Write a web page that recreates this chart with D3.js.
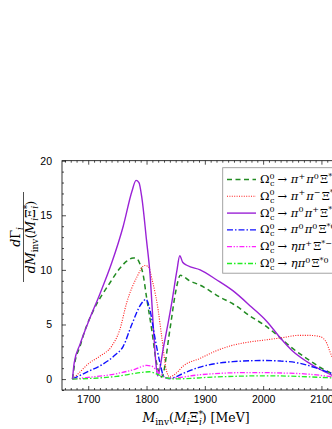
<!DOCTYPE html>
<html>
<head>
<meta charset="utf-8">
<script src="https://cdn.jsdelivr.net/npm/d3@7"></script>
<style>
  body { margin: 0; background: #fff; }
  svg { display: block; }
  .tick text { font-family: "Liberation Sans", Arial, sans-serif; font-size: 10.5px; fill: #000; }
  .domain { stroke: #000; stroke-width: 0.8; }
  .tick line { stroke: #000; stroke-width: 0.7; }
  .math { font-family: "DejaVu Serif", "Liberation Serif", serif; fill: #000; }
</style>
</head>
<body>
<svg id="chart" width="332" height="429"></svg>
<script>
/* global d3 */

// x ticks / y ticks
var xTicks = [1700, 1800, 1900, 2000, 2100];
var yTicks = [0, 5, 10, 15, 20];

// Omega_c^0 -> pi+ pi0 Xi*-
var piPlusPi0XiMinus = [
  [1673, 0], [1677, 1.5], [1686, 3.0], [1694, 4.4], [1709, 6.3], [1737, 8.8], [1755, 10.2],
  [1766, 10.8], [1777, 11.1], [1784, 11.0], [1789, 10.5], [1794, 9.6], [1800, 7.5], [1809, 4.5],
  [1817, 1.5], [1826, 0.2], [1840, 4.5], [1850, 8.0], [1858, 9.5], [1874, 9.0], [1892, 8.6],
  [1926, 7.5], [1948, 6.9], [1977, 5.8], [2006, 4.8], [2029, 3.8], [2046, 3.0], [2080, 1.7],
  [2097, 1.1], [2120, 0.45]
];
// Omega_c^0 -> pi+ pi- Xi*0
var piPlusPiMinusXi0 = [
  [1673, 0], [1685, 0.6], [1700, 1.4], [1720, 2.1], [1740, 3.0], [1754, 4.5], [1766, 7.0],
  [1783, 9.3], [1797, 10.4], [1803, 10.3], [1810, 9.0], [1820, 6.3], [1826, 3.9], [1834, 0.8],
  [1840, 0.2], [1850, 0.5], [1863, 1.2], [1892, 1.9], [1920, 2.6], [1948, 3.1], [1977, 3.4],
  [2006, 3.6], [2034, 3.8], [2060, 4.0], [2080, 4.0], [2097, 3.9], [2109, 3.3], [2114, 2.6],
  [2120, 1.8]
];
// Omega_c^0 -> pi0 pi+ Xi*-
var pi0PiPlusXiMinus = [
  [1673, 0], [1676, 1.5], [1686, 3.2], [1700, 5.2], [1720, 7.8], [1740, 10.6], [1760, 14.0],
  [1775, 17.2], [1782, 18.2], [1787, 18.0], [1792, 16.6], [1800, 12.7], [1806, 9.6], [1812, 4.5],
  [1816, 1.5], [1819, 0.3], [1829, 2.9], [1843, 6.9], [1852, 9.9], [1857, 11.3], [1862, 10.7],
  [1870, 10.4], [1892, 10.0], [1920, 9.1], [1948, 8.1], [1980, 6.6], [2006, 5.3], [2029, 3.8],
  [2050, 2.6], [2075, 1.6], [2097, 0.9], [2120, 0.3]
];
// Omega_c^0 -> pi0 pi0 Xi*0
var pi0Pi0Xi0 = [
  [1673, 0], [1700, 0.7], [1723, 1.3], [1746, 2.2], [1760, 3.0], [1774, 4.9], [1791, 6.9],
  [1799, 7.3], [1806, 6.3], [1814, 3.9], [1823, 1.5], [1830, 0.2], [1838, 0.05], [1848, 0.15],
  [1862, 0.5], [1892, 1.1], [1948, 1.6], [2000, 1.7], [2030, 1.65], [2058, 1.5], [2092, 1.0],
  [2120, 0.45]
];
// Omega_c^0 -> eta pi+ Xi*-
var etaPiPlusXiMinus = [
  [1673, 0], [1700, 0.15], [1749, 0.5], [1780, 0.9], [1800, 1.25], [1808, 1.2], [1823, 0.5],
  [1838, 0.05], [1850, 0.1], [1892, 0.4], [1977, 0.6], [2063, 0.5], [2120, 0.2]
];
// Omega_c^0 -> eta pi0 Xi*0
var etaPi0Xi0 = [
  [1673, 0], [1749, 0.25], [1790, 0.6], [1805, 0.67], [1820, 0.4], [1835, 0.1], [1850, 0.02],
  [1920, 0.2], [2006, 0.3], [2120, 0.1]
];

// final states for the legend: [symbol, superscript]
var finalStates = [
  [['π', '+'], ['π', '0'], ['Ξ', '*−']],
  [['π', '+'], ['π', '−'], ['Ξ', '*0']],
  [['π', '0'], ['π', '+'], ['Ξ', '*−']],
  [['π', '0'], ['π', '0'], ['Ξ', '*0']],
  [['η', ''], ['π', '+'], ['Ξ', '*−']],
  [['η', ''], ['π', '0'], ['Ξ', '*0']]
];

var seriesData = [piPlusPi0XiMinus, piPlusPiMinusXi0, pi0PiPlusXiMinus, pi0Pi0Xi0, etaPiPlusXiMinus, etaPi0Xi0];
var styles = [
  { color: '#228b22', dash: '5,3.5', width: 1.5 },
  { color: '#ff1a1a', dash: '1,1.4', width: 1.1 },
  { color: '#9a22d6', dash: null, width: 1.4 },
  { color: '#1010ff', dash: '6,2,1.5,2', width: 1.4 },
  { color: '#ff22ff', dash: '5,1.6,1.3,1.6,1.3,1.6', width: 1.3 },
  { color: '#22ee22', dash: '5,2,1.5,2', width: 1.3 }
];

var svg = d3.select('#chart');
var plotLeft = 62, plotTop = 160.7, plotRight = 336, plotBottom = 390;

var x = d3.scaleLinear().domain([1655, 2125]).range([plotLeft, plotRight]);
var y = d3.scaleLinear().domain([-1, 20]).range([plotBottom, plotTop]);

// frame
svg.append('rect')
  .attr('x', plotLeft).attr('y', plotTop)
  .attr('width', plotRight - plotLeft).attr('height', plotBottom - plotTop)
  .attr('fill', 'none').attr('stroke', '#000').attr('stroke-width', 0.8);

// minor ticks
var xMinor = d3.range(1660, 2125, 10).filter(v => v % 100 !== 0);
var yMinor = d3.range(-1, 21, 1).filter(v => v % 5 !== 0);

svg.append('g').attr('transform', `translate(0,${plotBottom})`)
  .call(d3.axisBottom(x).tickValues(xMinor).tickSize(-2).tickFormat(''));
svg.append('g').attr('transform', `translate(0,${plotTop})`)
  .call(d3.axisTop(x).tickValues(xMinor).tickSize(-2).tickFormat(''));
svg.append('g').attr('transform', `translate(${plotLeft},0)`)
  .call(d3.axisLeft(y).tickValues(yMinor).tickSize(-2).tickFormat(''));

// major ticks
svg.append('g').attr('transform', `translate(0,${plotBottom})`)
  .call(d3.axisBottom(x).tickValues(xTicks).tickSize(-4).tickPadding(6).tickFormat(d3.format('d')));
svg.append('g').attr('transform', `translate(0,${plotTop})`)
  .call(d3.axisTop(x).tickValues(xTicks).tickSize(-4).tickFormat(''));
svg.append('g').attr('transform', `translate(${plotLeft},0)`)
  .call(d3.axisLeft(y).tickValues(yTicks).tickSize(-4).tickPadding(10).tickFormat(d3.format('d')));

svg.selectAll('.domain').remove();

// curves
svg.append('clipPath').attr('id', 'plotClip')
  .append('rect').attr('x', plotLeft).attr('y', plotTop)
  .attr('width', plotRight - plotLeft).attr('height', plotBottom - plotTop);

var line = d3.line()
  .x(d => x(d[0]))
  .y(d => y(d[1]))
  .curve(d3.curveMonotoneX);

var curves = svg.append('g').attr('clip-path', 'url(#plotClip)');
curves.selectAll('path')
  .data(seriesData).enter()
  .append('path')
  .attr('d', line)
  .attr('fill', 'none')
  .attr('stroke', (d, i) => styles[i].color)
  .attr('stroke-width', (d, i) => styles[i].width)
  .attr('stroke-dasharray', (d, i) => styles[i].dash);

// legend
var lx = 222.7, ly = 167.7, rowH = 16.8;
var legend = svg.append('g');
legend.append('rect')
  .attr('x', lx).attr('y', ly)
  .attr('width', 130).attr('height', 105.5)
  .attr('fill', '#fff').attr('stroke', '#999').attr('stroke-width', 0.9);

// Omega_c^0 -> a b c, written out as tspans
function decayText(sel, states) {
  var t = sel.append('text').attr('class', 'math').attr('font-size', 11.5);
  t.append('tspan').text('Ω');
  t.append('tspan').attr('font-size', 8).attr('dy', -4.5).text('0');
  t.append('tspan').attr('font-size', 8).attr('dx', -4.6).attr('dy', 7.5).text('c');
  t.append('tspan').attr('dy', -3).attr('dx', 3).text('→ ');
  states.forEach(s => {
    var base = t.append('tspan').text(s[0]);
    if (s[0] !== 'Ξ') {
      base.attr('font-style', 'italic');
    }
    if (s[1]) {
      t.append('tspan').attr('font-size', 8).attr('dy', -4.5).text(s[1]);
      t.append('tspan').attr('dy', 4.5).text('\u200a');
    }
  });
  return t;
}

finalStates.forEach((states, i) => {
  var cy = 179.5 + i * rowH;
  legend.append('line')
    .attr('x1', 227).attr('x2', 256)
    .attr('y1', cy).attr('y2', cy)
    .attr('stroke', styles[i].color)
    .attr('stroke-width', styles[i].width)
    .attr('stroke-dasharray', styles[i].dash);
  decayText(legend, states).attr('x', 260).attr('y', cy + 3.5);
});

// x axis label
var xl = svg.append('text').attr('class', 'math').attr('font-size', 12.5)
  .attr('x', 196).attr('y', 421.5).attr('text-anchor', 'middle');
xl.append('tspan').attr('font-style', 'italic').text('M');
xl.append('tspan').attr('font-size', 9).attr('dy', 3).text('inv');
xl.append('tspan').attr('dy', -3).text('(');
xl.append('tspan').attr('font-style', 'italic').text('M');
xl.append('tspan').attr('font-size', 9).attr('font-style', 'italic').attr('dy', 3).text('i');
xl.append('tspan').attr('dy', -3).text('Ξ');
xl.append('tspan').attr('font-size', 9).attr('dy', -5).text('*');
xl.append('tspan').attr('font-size', 9).attr('font-style', 'italic').attr('dx', -4).attr('dy', 8).text('i');
xl.append('tspan').attr('dy', -3).text(') [MeV]');

// y axis label, a rotated fraction
var yl = svg.append('g').attr('transform', 'translate(0,237) rotate(-90)');
var num = yl.append('text').attr('class', 'math').attr('font-size', 12.5)
  .attr('x', 0).attr('y', 19.5).attr('text-anchor', 'middle');
num.append('tspan').attr('font-style', 'italic').text('d');
num.append('tspan').text('Γ');
num.append('tspan').attr('font-size', 9).attr('font-style', 'italic').attr('dy', 3).text('i');
yl.append('line')
  .attr('x1', -45).attr('x2', 45)
  .attr('y1', 23.5).attr('y2', 23.5)
  .attr('stroke', '#000').attr('stroke-width', 0.7);
var den = yl.append('text').attr('class', 'math').attr('font-size', 12.5)
  .attr('x', 0).attr('y', 34.5).attr('text-anchor', 'middle');
den.append('tspan').attr('font-style', 'italic').text('dM');
den.append('tspan').attr('font-size', 9).attr('dy', 3).text('inv');
den.append('tspan').attr('dy', -3).text('(');
den.append('tspan').attr('font-style', 'italic').text('M');
den.append('tspan').attr('font-size', 9).attr('font-style', 'italic').attr('dy', 3).text('i');
den.append('tspan').attr('dy', -3).text('Ξ');
den.append('tspan').attr('font-size', 9).attr('dy', -5).text('*');
den.append('tspan').attr('font-size', 9).attr('font-style', 'italic').attr('dx', -4).attr('dy', 8).text('i');
den.append('tspan').attr('dy', -3).text(')');
</script>
</body>
</html>
